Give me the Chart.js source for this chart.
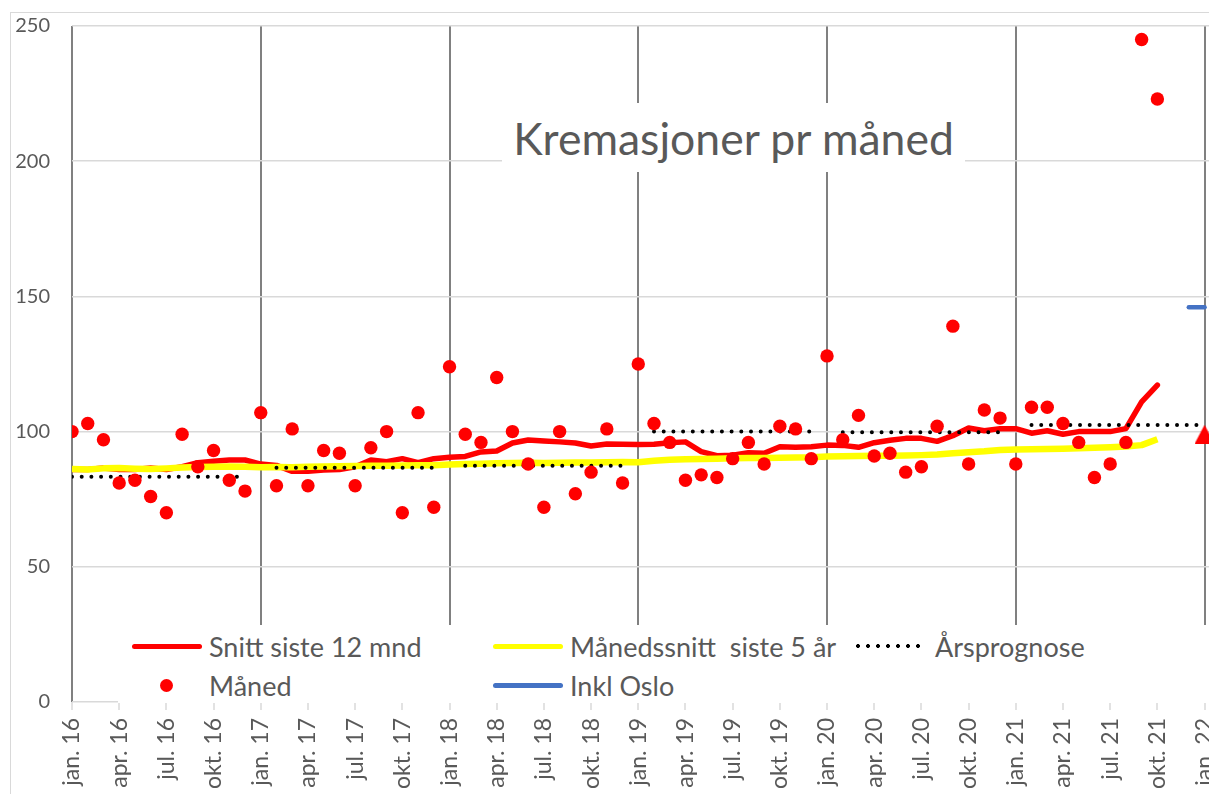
<!DOCTYPE html>
<html lang="no">
<head>
    <meta charset="UTF-8">
    <title>Kremasjoner pr måned</title>
    <script src="https://cdn.jsdelivr.net/npm/chart.js"></script>
    <style>
        body {
            margin: 0;
            width: 1209px;
            height: 794px;
            overflow: hidden;
            background: #fff;
            font-family: Lato, sans-serif;
            color: #595959;
        }
        .frame {
            position: absolute;
            left: 10px;
            top: 12px;
            width: 1220px;
            height: 820px;
            border-left: 1.5px solid #d9d9d9;
            border-top: 1.5px solid #d9d9d9;
        }
        #chartBox {
            position: absolute;
            left: 0;
            top: 0;
        }
        .title {
            position: absolute;
            left: 502px;
            top: 103px;
            width: 463px;
            height: 69px;
            background: #fff;
            display: flex;
            align-items: center;
            justify-content: center;
            font-size: 44.5px;
            white-space: nowrap;
        }
        .legend {
            position: absolute;
            left: 118px;
            top: 625px;
            width: 1091px;
            height: 78px;
            background: #fff;
        }
        .legend-item {
            position: absolute;
            display: flex;
            align-items: center;
            height: 30px;
            font-size: 27px;
            white-space: pre;
        }
        .marker {
            position: relative;
            width: 70px;
            height: 30px;
            margin-right: 7px;
        }
        .marker .line {
            position: absolute;
            left: 0;
            right: 0;
            top: 12.5px;
            height: 5px;
            border-radius: 3px;
        }
        .marker .dot {
            position: absolute;
            left: 28px;
            top: 8.5px;
            width: 13px;
            height: 13px;
            border-radius: 50%;
        }
        .marker .dots {
            position: absolute;
            left: -2px;
            width: 64px;
            top: 13px;
            height: 4px;
            background: radial-gradient(circle at 2px 2px, #000 1.8px, transparent 2.2px);
            background-size: 10px 4px;
        }
    </style>
</head>
<body>
    <div class="frame"></div>
    <div id="chartBox">
        <canvas id="kremChart" width="1222" height="840"></canvas>
    </div>
    <div class="title">Kremasjoner pr måned</div>
    <div class="legend" id="legend"></div>

    <script>
        // Månedsindeks 0 = jan. 16, 72 = jan. 22
        const tickLabels = [
            'jan. 16', 'apr. 16', 'jul. 16', 'okt. 16',
            'jan. 17', 'apr. 17', 'jul. 17', 'okt. 17',
            'jan. 18', 'apr. 18', 'jul. 18', 'okt. 18',
            'jan. 19', 'apr. 19', 'jul. 19', 'okt. 19',
            'jan. 20', 'apr. 20', 'jul. 20', 'okt. 20',
            'jan. 21', 'apr. 21', 'jul. 21', 'okt. 21',
            'jan. 22'
        ];

        // Måned (antall kremasjoner), jan. 16 - okt. 21
        const maaned = [
            100, 103, 97, 81, 82, 76, 70, 99, 87, 93, 82, 78,
            107, 80, 101, 80, 93, 92, 80, 94, 100, 70, 107, 72,
            124, 99, 96, 120, 100, 88, 72, 100, 77, 85, 101, 81,
            125, 103, 96, 82, 84, 83, 90, 96, 88, 102, 101, 90,
            128, 97, 106, 91, 92, 85, 87, 102, 139, 88, 108, 105,
            88, 109, 109, 103, 96, 83, 88, 96, 245, 223
        ];

        // Snitt siste 12 mnd
        const snitt12 = [
            86, 86, 86.5, 86, 86, 86.5, 86, 87, 88.5, 89, 89.5, 89.5,
            88, 87.5, 85.3, 85.3, 85.8, 86, 87, 89.5, 88.9, 90, 88.5, 90,
            90.5, 90.8, 92.5, 92.8, 95.8, 96.9, 96.5, 96.2, 95.8, 94.7, 95.4, 95.3,
            95.2, 95.3, 95.9, 96.2, 92.6, 91.1, 91.3, 92.2, 92, 94.4, 94.2, 94.4,
            95, 94.9, 94.2, 95.9, 96.8, 97.5, 97.5, 96.4, 98.5, 101.3, 100.3, 101.1,
            101.1, 99.4, 100.3, 99, 100, 100, 100, 101.1, 111, 117.2
        ];

        // Månedssnitt siste 5 år
        const snitt5aar = [
            86.2, 86.0, 86.4, 86.5, 86.3, 86.2, 86.4, 86.7, 86.9, 87.0, 87.1, 87.0,
            86.8, 86.9, 86.8, 87.0, 87.1, 87.2, 87.3, 87.4, 87.4, 87.5, 87.6, 87.6,
            87.8, 88.0, 88.1, 88.3, 88.4, 88.5, 88.4, 88.5, 88.6, 88.6, 88.7, 88.8,
            88.7, 89.2, 89.6, 89.8, 89.9, 90.0, 90.1, 90.2, 90.2, 90.3, 90.4, 90.5,
            90.8, 90.9, 91.0, 91.1, 91.1, 91.2, 91.3, 91.5, 92.0, 92.4, 92.7, 93.2,
            93.4, 93.5, 93.6, 93.7, 93.8, 94.0, 94.2, 94.5, 95.0, 97.2
        ];

        // Årsprognose: ett nivå per år, fra/til månedsindeks
        const prognoseVerdi = [83.3, 86.6, 87.4, 100, 99.8, 102.4];
        const prognoseFra = [0, 13, 25, 37, 49, 61];
        const prognoseTil = [11, 23, 35, 47, 59, 72];

        // Inkl Oslo (des. 21 - jan. 22) og prognose-trekant for jan. 22
        const inklOslo = [146, 146];
        const inklOsloFra = 71;
        const prognose2022 = [99];
        const prognose2022Mnd = 72;

        const xMax = 72.41;

        function toPoints(values, start) {
            return values.map((v, i) => ({ x: start + i, y: v }));
        }

        function prognosePoints() {
            const pts = [];
            prognoseVerdi.forEach((v, k) => {
                for (let m = prognoseFra[k]; m <= prognoseTil[k]; m++) {
                    pts.push({ x: m, y: v });
                }
                pts.push({ x: prognoseTil[k] + 0.5, y: null });
            });
            return pts;
        }

        // trekant-markør som bilde, sentrert på punktet
        function triangleImage() {
            const c = document.createElement('canvas');
            c.width = 20;
            c.height = 19;
            const g = c.getContext('2d');
            g.fillStyle = '#ff0000';
            g.beginPath();
            g.moveTo(10, 0);
            g.lineTo(20, 19);
            g.lineTo(0, 19);
            g.closePath();
            g.fill();
            return c;
        }

        Chart.defaults.font.family = 'Lato, sans-serif';
        Chart.defaults.color = '#595959';

        const chart = new Chart(document.getElementById('kremChart'), {
            type: 'line',
            data: {
                datasets: [
                    {
                        label: 'Måned',
                        data: toPoints(maaned, 0),
                        showLine: false,
                        pointRadius: 6.7,
                        pointBorderWidth: 0,
                        pointBackgroundColor: '#ff0000',
                        order: 0
                    },
                    {
                        label: 'Årsprognose',
                        data: prognosePoints(),
                        borderColor: '#000000',
                        borderWidth: 4,
                        borderDash: [0, 9.7],
                        borderCapStyle: 'round',
                        pointRadius: 0,
                        order: 1
                    },
                    {
                        label: 'Månedssnitt  siste 5 år',
                        data: toPoints(snitt5aar, 0),
                        borderColor: '#ffff00',
                        borderWidth: 6.5,
                        borderJoinStyle: 'round',
                        pointRadius: 0,
                        order: 2
                    },
                    {
                        label: 'Snitt siste 12 mnd',
                        data: toPoints(snitt12, 0),
                        borderColor: '#ff0000',
                        borderWidth: 5.5,
                        borderJoinStyle: 'round',
                        borderCapStyle: 'round',
                        pointRadius: 0,
                        order: 3
                    },
                    {
                        label: 'Inkl Oslo',
                        data: toPoints(inklOslo, inklOsloFra),
                        borderColor: '#4472c4',
                        borderWidth: 4.5,
                        borderCapStyle: 'round',
                        pointRadius: 0,
                        order: 4
                    },
                    {
                        label: 'Prognose 2022',
                        data: toPoints(prognose2022, prognose2022Mnd),
                        showLine: false,
                        pointStyle: triangleImage(),
                        pointRadius: 10,
                        order: 0
                    }
                ]
            },
            options: {
                responsive: false,
                animation: false,
                layout: {
                    padding: { left: 0, right: 0, top: 26, bottom: 0 }
                },
                plugins: {
                    legend: { display: false },
                    tooltip: { enabled: false }
                },
                scales: {
                    x: {
                        type: 'linear',
                        bounds: 'data',
                        min: 0,
                        max: xMax,
                        afterFit: (scale) => {
                            scale.height = 138;
                            scale.paddingLeft = 0;
                            scale.paddingRight = 0;
                        },
                        border: { display: false },
                        grid: {
                            color: (ctx) => (ctx.tick && ctx.tick.value % 12 === 0) ? '#808080' : 'rgba(0,0,0,0)',
                            lineWidth: 2,
                            tickColor: '#d9d9d9',
                            tickWidth: 1.5,
                            tickLength: 8
                        },
                        ticks: {
                            stepSize: 3,
                            includeBounds: false,
                            autoSkip: false,
                            maxRotation: 90,
                            minRotation: 90,
                            padding: 8,
                            font: { size: 23 },
                            callback: (value) => tickLabels[value / 3]
                        }
                    },
                    y: {
                        min: 0,
                        max: 250,
                        afterFit: (scale) => {
                            scale.width = 72;
                            scale.paddingTop = 0;
                            scale.paddingBottom = 0;
                        },
                        border: { display: false },
                        grid: {
                            color: '#d9d9d9',
                            lineWidth: 1.5,
                            drawTicks: false
                        },
                        ticks: {
                            stepSize: 50,
                            padding: 22,
                            font: { size: 20 }
                        }
                    }
                }
            }
        });

        // forklaring inne i plottet, to rader
        const legendLayout = [
            { label: 'Snitt siste 12 mnd', kind: 'line', color: '#ff0000', left: 14, top: 6 },
            { label: 'Månedssnitt  siste 5 år', kind: 'line', color: '#ffff00', left: 375, top: 6 },
            { label: 'Årsprognose', kind: 'dots', color: '#000000', left: 740, top: 6 },
            { label: 'Måned', kind: 'dot', color: '#ff0000', left: 14, top: 45 },
            { label: 'Inkl Oslo', kind: 'line', color: '#4472c4', left: 375, top: 45 }
        ];

        function renderLegend() {
            const box = document.getElementById('legend');
            legendLayout.forEach(item => {
                const el = document.createElement('div');
                el.className = 'legend-item';
                el.style.left = item.left + 'px';
                el.style.top = item.top + 'px';
                const marker = document.createElement('div');
                marker.className = 'marker';
                const sym = document.createElement('div');
                sym.className = item.kind;
                if (item.kind !== 'dots') sym.style.background = item.color;
                marker.appendChild(sym);
                const text = document.createElement('span');
                text.textContent = item.label;
                el.appendChild(marker);
                el.appendChild(text);
                box.appendChild(el);
            });
        }

        renderLegend();
    </script>
</body>
</html>
